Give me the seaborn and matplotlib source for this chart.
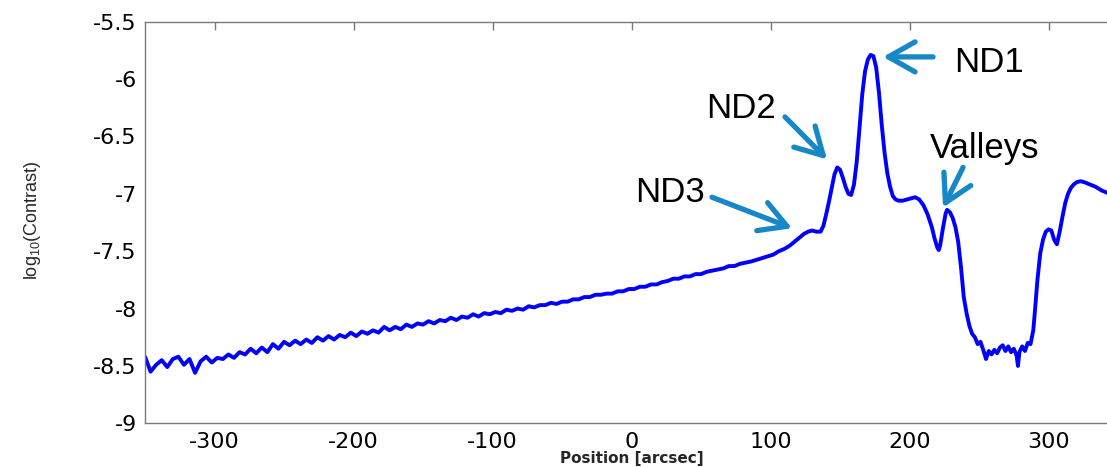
import matplotlib
matplotlib.use("Agg")
import matplotlib.pyplot as plt
import seaborn as sns
import pandas as pd

# ---- data ----
position = [
    -350, -346, -342, -338, -334, -330, -326, -322, -318, -314, -310, -306, -302,
    -298, -294, -290, -286, -282, -278, -274, -270, -266, -262, -258,
    -254, -250, -246, -242, -238, -234, -230, -226, -222,
    -218, -214, -210, -206, -202, -198, -194, -190, -186, -182, -178,
    -174, -170, -166, -162, -158, -154, -150, -146, -142, -138, -134,
    -130, -126, -122, -118, -114, -110, -106, -102, -98, -94, -90, -86,
    -82, -78, -74, -70, -66, -62, -58, -54, -50,
    -46, -42, -38, -34, -30, -26, -22, -18, -14, -10, -6, -2,
    2, 6, 10, 14, 18, 22, 26, 30, 34, 38,
    42, 46, 50, 54, 58, 62, 66, 70, 74, 78, 82, 86, 90, 94, 98,
    102, 106, 110, 114, 118, 121, 124, 127, 130, 133, 136, 138, 140, 142, 144,
    146, 148, 150, 152, 154, 156, 158, 160, 162, 164, 166, 168, 170, 172, 174,
    176, 178, 180, 182, 184, 186, 188, 190, 192, 195, 198, 201, 204, 207, 210,
    213, 216, 218, 220, 221, 222, 224, 226, 227, 229, 231, 233, 235, 237, 239,
    241, 243, 245, 247, 249, 251, 253, 255, 257, 259, 261, 263, 265, 267, 269,
    271, 273, 275, 277, 278, 279, 281, 283, 285, 287, 289, 290, 292, 294, 296,
    298, 300, 302, 304, 306, 308, 310, 312, 314, 316, 318, 320, 323, 326, 330,
    334, 338, 342, 346, 350,
]
log_contrast = [
    -8.42, -8.55, -8.49, -8.45, -8.51, -8.44, -8.42, -8.49, -8.44, -8.56, -8.46, -8.42, -8.47,
    -8.43, -8.44, -8.40, -8.43, -8.38, -8.40, -8.35, -8.39, -8.34, -8.38, -8.31,
    -8.35, -8.29, -8.32, -8.28, -8.31, -8.27, -8.30, -8.25, -8.28,
    -8.24, -8.27, -8.23, -8.25, -8.21, -8.24, -8.20, -8.22, -8.19, -8.21, -8.16,
    -8.19, -8.16, -8.18, -8.14, -8.16, -8.13, -8.14, -8.11, -8.13, -8.10, -8.11,
    -8.08, -8.10, -8.07, -8.08, -8.05, -8.07, -8.04, -8.05, -8.03, -8.04, -8.01, -8.02,
    -8.00, -8.01, -7.98, -7.99, -7.97, -7.97, -7.95, -7.96, -7.94,
    -7.94, -7.92, -7.92, -7.90, -7.90, -7.88, -7.88, -7.87, -7.87, -7.85, -7.85, -7.83,
    -7.83, -7.81, -7.81, -7.79, -7.79, -7.77, -7.76, -7.74, -7.74, -7.72,
    -7.72, -7.70, -7.70, -7.68, -7.67, -7.66, -7.65, -7.63, -7.63, -7.61, -7.60, -7.59, -7.575, -7.56, -7.545,
    -7.53, -7.50, -7.48, -7.45, -7.41, -7.38, -7.35, -7.33, -7.32, -7.33, -7.33, -7.28, -7.18, -7.07, -6.95,
    -6.83, -6.77, -6.79, -6.86, -6.94, -7.00, -7.01, -6.92, -6.72, -6.42, -6.13, -5.93, -5.83, -5.79, -5.80,
    -5.90, -6.12, -6.40, -6.64, -6.82, -6.94, -7.02, -7.05, -7.06, -7.06, -7.05, -7.04, -7.03, -7.05, -7.10,
    -7.18, -7.29, -7.39, -7.47, -7.49, -7.45, -7.30, -7.17, -7.14, -7.16, -7.21, -7.29, -7.42, -7.64, -7.90,
    -8.04, -8.15, -8.22, -8.25, -8.31, -8.29, -8.36, -8.44, -8.37, -8.40, -8.36, -8.39, -8.34, -8.32, -8.37,
    -8.33, -8.38, -8.35, -8.41, -8.50, -8.38, -8.33, -8.37, -8.30, -8.31, -8.19, -8.05, -7.75, -7.52, -7.40,
    -7.33, -7.31, -7.32, -7.40, -7.44, -7.33, -7.20, -7.08, -7.00, -6.95, -6.92, -6.90, -6.89, -6.90, -6.92,
    -6.94, -6.97, -6.99, -7.01, -7.03,
]

x_ticks = [-300, -200, -100, 0, 100, 200, 300]
y_ticks = [-9, -8.5, -8, -7.5, -7, -6.5, -6, -5.5]
y_tick_labels = ["-9", "-8.5", "-8", "-7.5", "-7", "-6.5", "-6", "-5.5"]

# annotations: label, text position (left, baseline), arrow tail, arrow tip
ann_labels = ["ND1", "ND2", "ND3", "Valleys"]
ann_text_xy = [(232, -5.935), (53.6, -6.34), (2.5, -7.068), (214.7, -6.687)]
ann_tail = [(216.9, -5.807), (110.4, -6.33), (57.9, -7.03), (238.5, -6.77)]
ann_tip = [(180.9, -5.807), (140.6, -6.70), (115.5, -7.30), (224.1, -7.12)]

# ---- style ----
sns.set_style("white")
plt.rcParams["font.family"] = ["DejaVu Sans"]
plt.rcParams["mathtext.fontset"] = "custom"
plt.rcParams["mathtext.rm"] = "Liberation Sans"
plt.rcParams["mathtext.default"] = "regular"

fig = plt.figure(figsize=(11.07, 4.67), dpi=100)
ax = fig.add_axes([0.131, 0.0936, 0.879, 0.86])

df = pd.DataFrame({"Position": position, "logC": log_contrast})
sns.lineplot(data=df, x="Position", y="logC", ax=ax, color="#0000ff",
             linewidth=2.8, estimator=None, sort=False)

ax.set_xlim(-350, 350)
ax.set_ylim(-9, -5.5)
ax.set_xticks(x_ticks)
ax.set_xticklabels([str(v) for v in x_ticks])
ax.set_yticks(y_ticks)
ax.set_yticklabels(y_tick_labels)

grey = "#7a7a7a"
for s in ax.spines.values():
    s.set_color(grey)
    s.set_linewidth(1.0)
    s.set_visible(True)
ax.tick_params(axis="both", direction="in", length=6, width=1, color=grey,
               top=True, right=True, labelsize=16, labelcolor="black")
ax.tick_params(axis="x", pad=6)
ax.tick_params(axis="y", pad=6)

ax.set_xlabel("Position [arcsec]", fontsize=11, fontweight="bold")
ax.xaxis.set_label_coords(0.5, -0.068)
ax.set_ylabel("log$_{10}$(Contrast)", fontsize=13, family="Liberation Sans")
ax.yaxis.set_label_coords(-0.105, 0.506)

arrow_col = "#1788c7"
for lab, txy, tail, tip in zip(ann_labels, ann_text_xy, ann_tail, ann_tip):
    ax.annotate("", xy=tip, xytext=tail,
                arrowprops=dict(arrowstyle="->,head_length=0.8,head_width=0.45",
                                color=arrow_col, lw=3.8, shrinkA=0, shrinkB=0,
                                mutation_scale=24, capstyle="round", joinstyle="round"))
    ax.text(txy[0], txy[1], lab, fontsize=25, family="Liberation Sans",
            ha="left", va="baseline", color="black")

fig.savefig("out.png", dpi=100)
